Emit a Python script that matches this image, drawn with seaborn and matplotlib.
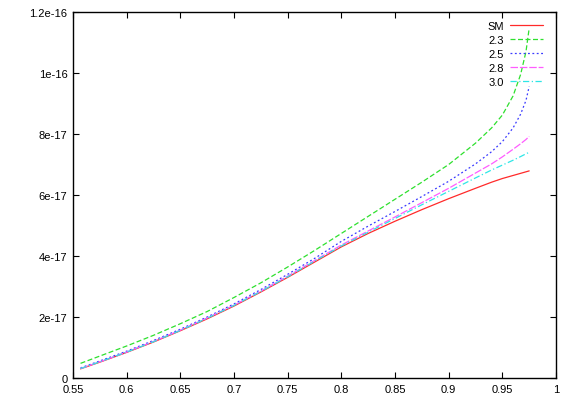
import numpy as np
import pandas as pd
import seaborn as sns
import matplotlib.pyplot as plt

x = [0.557, 0.575, 0.6, 0.625, 0.65, 0.675, 0.7, 0.725, 0.75, 0.775, 0.8,
     0.825, 0.85, 0.875, 0.9, 0.925, 0.94, 0.95, 0.96, 0.967, 0.972, 0.975]

# values in units of 1e-17
sm = [0.30, 0.52, 0.84, 1.18, 1.55, 1.94, 2.36, 2.82, 3.30, 3.80, 4.30,
      4.74, 5.14, 5.52, 5.88, 6.22, 6.42, 6.54, 6.64, 6.71, 6.76, 6.79]
v23 = [0.48, 0.72, 1.05, 1.40, 1.78, 2.18, 2.64, 3.12, 3.64, 4.18, 4.74,
       5.30, 5.86, 6.42, 7.00, 7.70, 8.20, 8.62, 9.25, 9.95, 10.70, 11.47]
v25 = [0.33, 0.56, 0.88, 1.23, 1.60, 2.00, 2.43, 2.90, 3.40, 3.92, 4.48,
       4.98, 5.46, 5.95, 6.45, 7.02, 7.42, 7.75, 8.20, 8.65, 9.10, 9.56]
v28 = [0.31, 0.53, 0.85, 1.20, 1.57, 1.97, 2.39, 2.85, 3.34, 3.85, 4.36,
       4.82, 5.28, 5.75, 6.22, 6.72, 7.02, 7.25, 7.50, 7.68, 7.82, 7.92]
v30 = [0.31, 0.53, 0.85, 1.19, 1.56, 1.96, 2.38, 2.84, 3.32, 3.83, 4.33,
       4.78, 5.23, 5.68, 6.12, 6.56, 6.82, 6.98, 7.14, 7.26, 7.35, 7.40]

labels = ['SM', '2.3', '2.5', '2.8', '3.0']
series = [sm, v23, v25, v28, v30]
colors = ['#ff2a2a', '#2ee02e', '#3a3aff', '#ff5cff', '#2ee6e6']
dashes = [None, (4, 2), (1.5, 2), (6, 1.5), (5, 2, 1, 2)]

yticks = [0, 2e-17, 4e-17, 6e-17, 8e-17, 1e-16, 1.2e-16]
ytick_labels = ['0', '2e-17', '4e-17', '6e-17', '8e-17', '1e-16', '1.2e-16']
xticks = [0.55, 0.6, 0.65, 0.7, 0.75, 0.8, 0.85, 0.9, 0.95, 1.0]
xtick_labels = ['0.55', '0.6', '0.65', '0.7', '0.75', '0.8', '0.85', '0.9', '0.95', '1']

sns.set_style('ticks')
plt.rcParams['font.family'] = ['Liberation Sans', 'DejaVu Sans']
plt.rcParams['text.color'] = 'black'
plt.rcParams['xtick.color'] = 'black'
plt.rcParams['ytick.color'] = 'black'

fig = plt.figure(figsize=(5.75, 4.02), dpi=100)
ax = fig.add_axes([0.127, 0.0572, 0.840, 0.9105])

for lab, vals, c, d in zip(labels, series, colors, dashes):
    df = pd.DataFrame({'x': x, 'y': np.array(vals) * 1e-17})
    sns.lineplot(data=df, x='x', y='y', ax=ax, color=c, lw=0.9, label=lab)
    if d is not None:
        ax.lines[-1].set_dashes(d)

ax.set_xlim(0.55, 1.0)
ax.set_ylim(0, 1.2e-16)
ax.set_xticks(xticks)
ax.set_xticklabels(xtick_labels, fontsize=8, color='black')
ax.set_yticks(yticks)
ax.set_yticklabels(ytick_labels, fontsize=8, color='black')
ax.set_xlabel('')
ax.set_ylabel('')
ax.tick_params(direction='in', length=4, width=0.8, top=True, right=True, pad=4)
for s in ax.spines.values():
    s.set_visible(True)
    s.set_linewidth(1.0)
    s.set_color('black')

leg = ax.legend(loc='upper right', bbox_to_anchor=(0.972, 0.975), frameon=False,
                markerfirst=False, fontsize=8, handlelength=2.9, handletextpad=0.6,
                labelspacing=0.36, borderpad=0, borderaxespad=0)
for t in leg.get_texts():
    t.set_color('black')

fig.savefig('out.png', dpi=100)
